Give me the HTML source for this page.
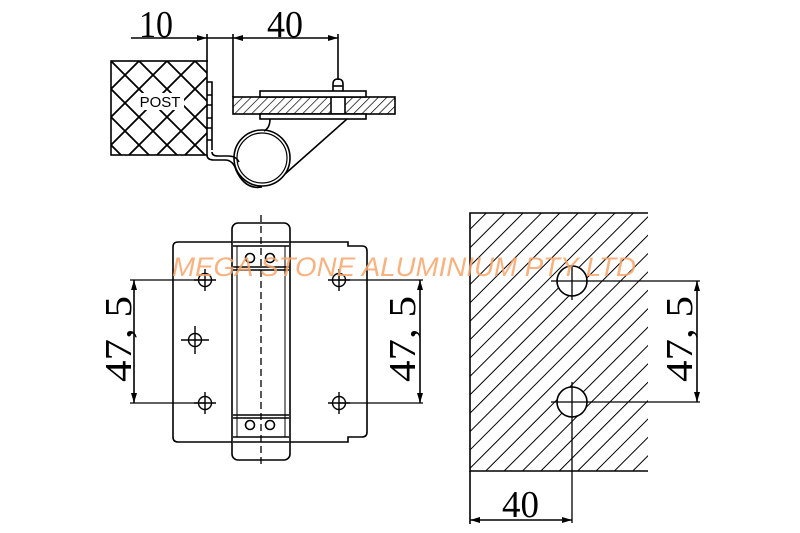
<!DOCTYPE html>
<html><head><style>
html,body{margin:0;padding:0;background:#fff;}
svg{display:block;}
text{font-family:"Liberation Serif",serif;}
</style></head><body>
<svg width="800" height="533" viewBox="0 0 800 533" xmlns="http://www.w3.org/2000/svg">
<defs>
<pattern id="xh" patternUnits="userSpaceOnUse" width="28" height="28" x="111" y="61">
<path d="M0,0 L28,28 M28,0 L0,28" stroke="#000" stroke-width="1.8"/>
</pattern>
<pattern id="dh" patternUnits="userSpaceOnUse" width="13" height="13" patternTransform="rotate(45)">
<line x1="0" y1="0" x2="0" y2="13" stroke="#000" stroke-width="2"/>
</pattern>
<pattern id="ph" patternUnits="userSpaceOnUse" width="6" height="6" patternTransform="rotate(45)">
<line x1="0" y1="0" x2="0" y2="6" stroke="#000" stroke-width="1.4"/>
</pattern>
<marker id="ar" viewBox="0 0 10 6" refX="10" refY="3" markerWidth="10" markerHeight="6" orient="auto-start-reverse" markerUnits="userSpaceOnUse">
<path d="M0,0 L10,3 L0,6 Z" fill="#000"/>
</marker>
</defs>
<g fill="none" stroke="#000" stroke-width="1.6">
<!-- TOP VIEW -->
<line x1="131" y1="38" x2="207" y2="38" marker-end="url(#ar)"/>
<line x1="207" y1="38" x2="233" y2="38"/>
<line x1="233" y1="38" x2="338" y2="38" marker-start="url(#ar)" marker-end="url(#ar)"/>
<line x1="207" y1="34" x2="207" y2="62"/>
<line x1="233" y1="34" x2="233" y2="97"/>
<line x1="338" y1="34" x2="338" y2="80"/>
<rect x="111" y="61" width="96" height="94" fill="url(#xh)"/>
<rect x="136" y="93" width="48" height="17" fill="#fff" stroke="none"/>
<path d="M207,82 H212 V150 M207,95 H212 M207,105 H212 M207,118 H212 M207,128 H212 M207,140 H212"/>
<path d="M207,155 Q207,160 214,160 L225,160 Q233,160 236,170 Q245,190 262,187"/>
<path d="M212,152 Q212,156 218,156 L228,156 Q236,156 239,162"/>
<circle cx="262" cy="158" r="28"/>
<circle cx="262" cy="158" r="25" stroke-width="1.2"/>
<rect x="233" y="97" width="162" height="17" fill="url(#ph)"/>
<rect x="331" y="97" width="14" height="17" fill="#fff"/>
<rect x="260" y="91" width="106" height="6" fill="#fff"/>
<rect x="260" y="114" width="106" height="5" fill="#fff"/>
<path d="M333,91 V84 Q333,79 338,79 Q343,79 343,84 V91"/>
<line x1="333" y1="86" x2="343" y2="86"/>
<path d="M270,119 Q270,128 264,131"/>
<line x1="347" y1="119" x2="285" y2="174"/>
<!-- FRONT VIEW -->
<path d="M173,247 Q173,242 178,242 H348 V246 H362 Q367,246 367,251 V432 Q367,437 362,437 H348 V442 H178 Q173,442 173,437 Z"/>
<rect x="232" y="223" width="58" height="237" rx="6" fill="#fff"/>
<path d="M233,242 H289 M233,246 H289 M233,267 H289 M233,270 H289 M233,415 H289 M233,418 H289 M233,437 H289 M233,442 H289"/>
<line x1="237" y1="246" x2="237" y2="437" stroke-width="1"/>
<line x1="285" y1="246" x2="285" y2="437" stroke-width="1"/>
<circle cx="250" cy="258" r="4.5"/><circle cx="270" cy="258" r="4.5"/>
<circle cx="250" cy="425" r="4.5"/><circle cx="270" cy="425" r="4.5"/>
<line x1="261" y1="215" x2="261" y2="466" stroke-dasharray="7,4" stroke-width="1.3"/>
<g stroke-width="1.4">
<circle cx="205" cy="280" r="6.5"/><path d="M194,280 H216 M205,269 V291"/>
<circle cx="205" cy="403" r="6.5"/><path d="M194,403 H216 M205,392 V414"/>
<circle cx="195" cy="340" r="6.5"/><path d="M181,340 H209 M195,326 V354"/>
<circle cx="339" cy="280" r="6.5"/><path d="M328,280 H350 M339,269 V291"/>
<circle cx="339" cy="403" r="6.5"/><path d="M328,403 H350 M339,392 V414"/>
</g>
<path d="M130,280 H205 M130,403 H205" stroke-width="1.3"/>
<line x1="134" y1="280" x2="134" y2="403" marker-start="url(#ar)" marker-end="url(#ar)"/>
<path d="M339,280 H423 M339,403 H423" stroke-width="1.3"/>
<line x1="420" y1="280" x2="420" y2="403" marker-start="url(#ar)" marker-end="url(#ar)"/>
<!-- RIGHT VIEW -->
<rect x="470" y="213" width="178" height="258" fill="url(#dh)" stroke="none"/>
<path d="M648,213 H470 V471 H648"/>
<circle cx="572" cy="281" r="15" fill="#fff"/>
<circle cx="572" cy="402" r="15" fill="#fff"/>
<path d="M551,281 H700 M551,402 H700 M572,265 V300 M572,382 V523" stroke-width="1.3"/>
<line x1="697" y1="281" x2="697" y2="402" marker-start="url(#ar)" marker-end="url(#ar)"/>
<line x1="470" y1="471" x2="470" y2="524"/>
<line x1="470" y1="520" x2="572" y2="520" marker-start="url(#ar)" marker-end="url(#ar)"/>
</g>
<g fill="#000" font-size="38">
<text x="139" y="37" textLength="34" lengthAdjust="spacingAndGlyphs">10</text>
<text x="267" y="37" textLength="36" lengthAdjust="spacingAndGlyphs">40</text>
<text x="502" y="517" textLength="37" lengthAdjust="spacingAndGlyphs">40</text>
<text transform="translate(131,339) rotate(-90)" x="-43" textLength="86" lengthAdjust="spacingAndGlyphs">47, 5</text>
<text transform="translate(415,339) rotate(-90)" x="-43" textLength="86" lengthAdjust="spacingAndGlyphs">47, 5</text>
<text transform="translate(692,339) rotate(-90)" x="-43" textLength="86" lengthAdjust="spacingAndGlyphs">47, 5</text>
</g>
<text x="160" y="107" font-size="15" text-anchor="middle" fill="#000" style="font-family:'Liberation Sans',sans-serif">POST</text>
<text x="404" y="276" text-anchor="middle" font-size="27" fill="#f7a46a" fill-opacity="0.85" font-style="italic" style="font-family:'Liberation Sans',sans-serif" textLength="464" lengthAdjust="spacingAndGlyphs">MEGA STONE ALUMINIUM PTY LTD</text>
</svg>
</body></html>
